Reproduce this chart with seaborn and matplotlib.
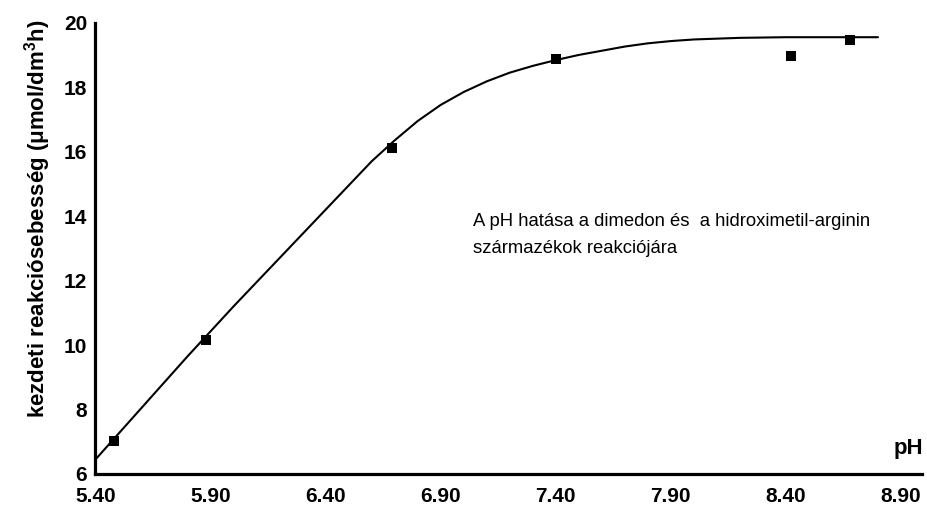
import matplotlib
matplotlib.use("Agg")
import matplotlib.pyplot as plt
import seaborn as sns
import pandas as pd

# Measured initial rates
ph_points = [5.48, 5.88, 6.69, 7.40, 8.42, 8.68]
rate_points = [7.02, 10.16, 16.10, 18.86, 18.97, 19.46]

# Smoothed trend curve
ph_curve = [5.40, 5.60, 5.80, 6.00, 6.20, 6.40, 6.60, 6.70, 6.80, 6.90,
            7.00, 7.10, 7.20, 7.30, 7.40, 7.50, 7.60, 7.70, 7.80, 7.90,
            8.00, 8.20, 8.40, 8.60, 8.80]
rate_curve = [6.45, 8.05, 9.65, 11.20, 12.70, 14.20, 15.70, 16.35, 16.95, 17.45,
              17.85, 18.18, 18.45, 18.66, 18.84, 19.00, 19.13, 19.26, 19.36, 19.43,
              19.48, 19.53, 19.55, 19.55, 19.55]

x_ticks = [5.40, 5.90, 6.40, 6.90, 7.40, 7.90, 8.40, 8.90]
y_ticks = [6, 8, 10, 12, 14, 16, 18, 20]

sns.set_style("white")
plt.rcParams["font.family"] = ["Liberation Sans", "DejaVu Sans"]
plt.rcParams["mathtext.fontset"] = "custom"
plt.rcParams["mathtext.rm"] = "Liberation Sans:bold"
plt.rcParams["mathtext.default"] = "rm"

fig = plt.figure(figsize=(9.27, 5.09), dpi=100)
ax = fig.add_axes([0.103, 0.0688, 0.8913, 0.8866])

curve_df = pd.DataFrame({"pH": ph_curve, "rate": rate_curve})
pts_df = pd.DataFrame({"pH": ph_points, "rate": rate_points})

sns.lineplot(data=curve_df, x="pH", y="rate", color="black", linewidth=1.5, ax=ax)
sns.scatterplot(data=pts_df, x="pH", y="rate", color="black", marker="s", s=55,
                edgecolor="black", linewidth=0, ax=ax, zorder=3)

ax.set_xlim(5.40, 8.99)
ax.set_ylim(6, 20)
ax.set_xticks(x_ticks)
ax.set_xticklabels([f"{v:.2f}" for v in x_ticks])
ax.set_yticks(y_ticks)
ax.set_yticklabels([str(v) for v in y_ticks])

for side in ["top", "right"]:
    ax.spines[side].set_visible(False)
for side in ["left", "bottom"]:
    ax.spines[side].set_linewidth(2.3)
    ax.spines[side].set_color("black")

ax.tick_params(axis="x", direction="inout", length=9, width=0.8, pad=5,
               labelsize=15, colors="black")
ax.tick_params(axis="y", direction="inout", length=10, width=0.8, pad=1,
               labelsize=15, colors="black")
for lbl in ax.get_xticklabels() + ax.get_yticklabels():
    lbl.set_fontweight("bold")

ax.set_xlabel("")
ax.set_ylabel("kezdeti reakciósebesség (μmol/dm$^{3}$h)", fontsize=16,
              fontweight="bold", color="black")
ax.yaxis.set_label_coords(-0.052, 0.565)

ax.text(8.998, 6.78, "pH", ha="right", va="center", fontsize=16,
        fontweight="bold", color="black")
ax.text(7.04, 13.84, "A pH hatása a dimedon és  a hidroximetil-arginin",
        ha="left", va="center", fontsize=13.3, color="black")
ax.text(7.04, 12.98, "származékok reakciójára",
        ha="left", va="center", fontsize=13.3, color="black")

fig.savefig("out.png", dpi=100)
